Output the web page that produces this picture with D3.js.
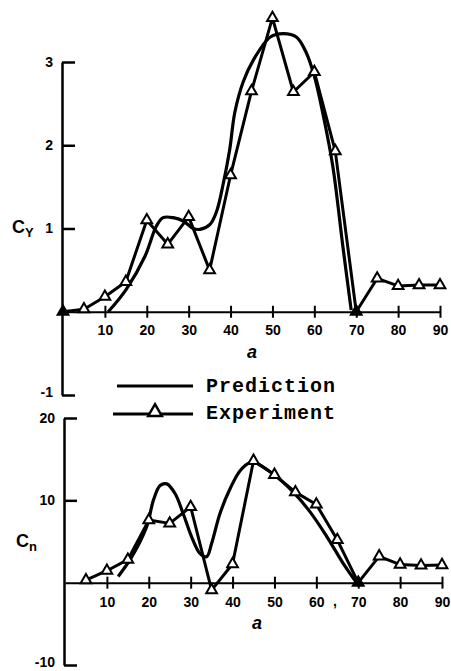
<!DOCTYPE html>
<html>

<head>
  <title>Cy and Cn vs a</title>
  <style>
    body { margin: 0; background: #fff; }
    .tick text { font-family: "Liberation Sans", Arial, sans-serif; font-weight: bold; font-size: 14px; fill: #000; }
    .legend text { font-family: "Liberation Mono", "DejaVu Sans Mono", monospace; font-weight: bold; font-size: 20px; letter-spacing: 1px; }
  </style>
</head>

<body>
  <svg id="svg" width="451" height="671"></svg>

  <script src="https://cdnjs.cloudflare.com/ajax/libs/d3/7.8.5/d3.min.js"></script>

  <script>
    // top panel: Cy
    let cyAngle = [0, 5, 10, 15, 20, 25, 30, 35, 40, 45, 50, 55, 60, 65, 70, 75, 80, 85, 90];
    let cyExp = [0, 0.03, 0.18, 0.36, 1.1, 0.81, 1.14, 0.5, 1.64, 2.65, 3.53, 2.64, 2.88, 1.93, 0, 0.4, 0.31, 0.32, 0.32];
    let cyPredAngle = [10.8, 15.1, 19.6, 22.3, 23.9, 26.3, 28.7, 31.1, 32.7, 35.1, 36.7, 38.3, 39.8, 41, 43, 45.4, 49.5, 52.6, 55.7, 58, 60, 62, 64.4, 66.8, 68.8];
    let cyPred = [0, 0.27, 0.67, 1.03, 1.13, 1.13, 1.09, 1.0, 0.99, 1.05, 1.21, 1.55, 1.95, 2.39, 2.76, 3.02, 3.3, 3.34, 3.3, 3.12, 2.83, 2.39, 1.75, 0.79, 0.02];
    let cyTicks = [-1, 1, 2, 3];

    // bottom panel: Cn
    let cnAngle = [5, 10, 15, 20, 25, 30, 35, 40, 45, 50, 55, 60, 65, 70, 75, 80, 85, 90];
    let cnExp = [0.3, 1.45, 2.8, 7.6, 7.2, 9.2, -0.9, 2.26, 14.8, 13.1, 11.0, 9.5, 5.2, 0, 3.2, 2.2, 2.1, 2.14];
    let cnPredAngle = [12.7, 15.9, 19.5, 21.1, 22.7, 24.3, 26.3, 28.2, 30.2, 32.2, 33.8, 35, 37, 39.4, 41.8, 44.2, 45.3, 49.7, 54.5, 58.5, 62.5, 66.4, 69.6];
    let cnPred = [0.76, 3.1, 6.8, 10, 11.8, 12, 10.8, 8.4, 5.6, 3.55, 3.15, 4.76, 8.4, 11.4, 13.6, 14.6, 14.6, 13.2, 11.0, 8.6, 5.6, 2.35, 0];
    let cnTicks = [-10, 10, 20];

    let xTicks = [10, 20, 30, 40, 50, 60, 70, 80, 90];
    let legendLabels = ["Prediction", "Experiment"];

    let svg = d3.select("#svg");

    function drawPanel(opts) {
      let x = d3.scaleLinear().domain([0, 90]).range(opts.xRange);
      let y = d3.scaleLinear().domain(opts.yDomain).range(opts.yRange);
      let g = svg.append("g");

      // y axis, ticks pointing right, labels left
      let yAxis = g.append("g")
        .attr("transform", `translate(${opts.xRange[0] - 1},0)`)
        .call(d3.axisLeft(y).tickValues(opts.yTicks).tickSizeInner(-13).tickSizeOuter(0).tickPadding(9)
          .tickFormat(d => d < 0 ? "-" + Math.abs(d) : d));
      yAxis.select(".domain").attr("stroke-width", 2.5);
      yAxis.selectAll(".tick line").attr("stroke-width", 2.5);
      // keep the lowest label inside the page
      yAxis.selectAll(".tick text").filter(d => d === opts.yDomain[0]).attr("dy", "0.1em");

      // x axis through zero, ticks crossing
      let xAxis = g.append("g")
        .attr("transform", `translate(0,${y(0)})`)
        .call(d3.axisBottom(x).tickValues(xTicks).tickSize(6).tickSizeOuter(0).tickPadding(opts.xPad));
      xAxis.select(".domain").attr("stroke-width", 2);
      xAxis.selectAll(".tick line").attr("y1", -6).attr("stroke-width", 2);
      xAxis.selectAll(".tick text").attr("font-size", 14);

      // axis label
      g.append("text")
        .attr("x", opts.aPos[0]).attr("y", opts.aPos[1])
        .attr("text-anchor", "middle")
        .attr("font-family", "Liberation Sans, Arial, sans-serif")
        .attr("font-weight", "bold").attr("font-style", "italic").attr("font-size", 18)
        .text("a");

      let lbl = g.append("text")
        .attr("x", opts.cPos[0]).attr("y", opts.cPos[1])
        .attr("font-family", "Liberation Sans, Arial, sans-serif")
        .attr("font-weight", "bold").attr("font-size", 18);
      lbl.append("tspan").text("C");
      lbl.append("tspan").attr("font-size", 13).attr("dy", 4).text(opts.sub);

      let line = d3.line().x(d => x(d[0])).y(d => y(d[1]));

      // prediction curve
      g.append("path")
        .datum(d3.zip(opts.predAngle, opts.pred))
        .attr("fill", "none").attr("stroke", "#000").attr("stroke-width", 3.2)
        .attr("stroke-linejoin", "round")
        .attr("d", line.curve(d3.curveCatmullRom.alpha(0.5)));

      // experiment polyline
      let exp = d3.zip(opts.angle, opts.exp);
      g.append("path")
        .datum(exp)
        .attr("fill", "none").attr("stroke", "#000").attr("stroke-width", 3)
        .attr("stroke-linejoin", "round")
        .attr("d", line.curve(d3.curveLinear));

      g.selectAll(".tri")
        .data(exp)
        .join("path")
        .attr("class", "tri")
        .attr("transform", d => `translate(${x(d[0])},${y(d[1])})`)
        .attr("d", d3.symbol(d3.symbolTriangle).size(50))
        .attr("fill", d => (d[0] === 70 || d[0] === 0) ? "#000" : "#fff")
        .attr("stroke", "#000").attr("stroke-width", 2);

      return { x: x, y: y, g: g };
    }

    let cyPanel = drawPanel({
      xRange: [63, 440], yDomain: [-1, 3], yRange: [395, 62], yTicks: cyTicks, xPad: 7,
      angle: cyAngle, exp: cyExp, predAngle: cyPredAngle, pred: cyPred,
      aPos: [252, 358], cPos: [12, 233], sub: "Y"
    });

    let cnPanel = drawPanel({
      xRange: [65, 442], yDomain: [-10, 20], yRange: [665, 418], yTicks: cnTicks, xPad: 8,
      angle: cnAngle, exp: cnExp, predAngle: cnPredAngle, pred: cnPred,
      aPos: [257, 629], cPos: [16, 547], sub: "n"
    });

    // stray comma next to 60 on the lower axis
    cnPanel.g.append("text")
      .attr("x", cnPanel.x(64)).attr("y", 606)
      .attr("font-family", "Liberation Sans, Arial, sans-serif").attr("font-weight", "bold").attr("font-size", 14)
      .text(",");

    // legend
    let legend = svg.append("g").attr("class", "legend");
    legend.append("line").attr("x1", 117).attr("x2", 193).attr("y1", 386).attr("y2", 386)
      .attr("stroke", "#000").attr("stroke-width", 3);
    legend.append("line").attr("x1", 113).attr("x2", 193).attr("y1", 414).attr("y2", 414)
      .attr("stroke", "#000").attr("stroke-width", 3);
    legend.append("path")
      .attr("transform", "translate(155,412)")
      .attr("d", d3.symbol(d3.symbolTriangle).size(80))
      .attr("fill", "#fff").attr("stroke", "#000").attr("stroke-width", 2.5);
    legend.selectAll("text")
      .data(legendLabels)
      .join("text")
      .attr("x", 206)
      .attr("y", (d, i) => 392 + i * 27)
      .text(d => d);
  </script>
</body>

</html>
